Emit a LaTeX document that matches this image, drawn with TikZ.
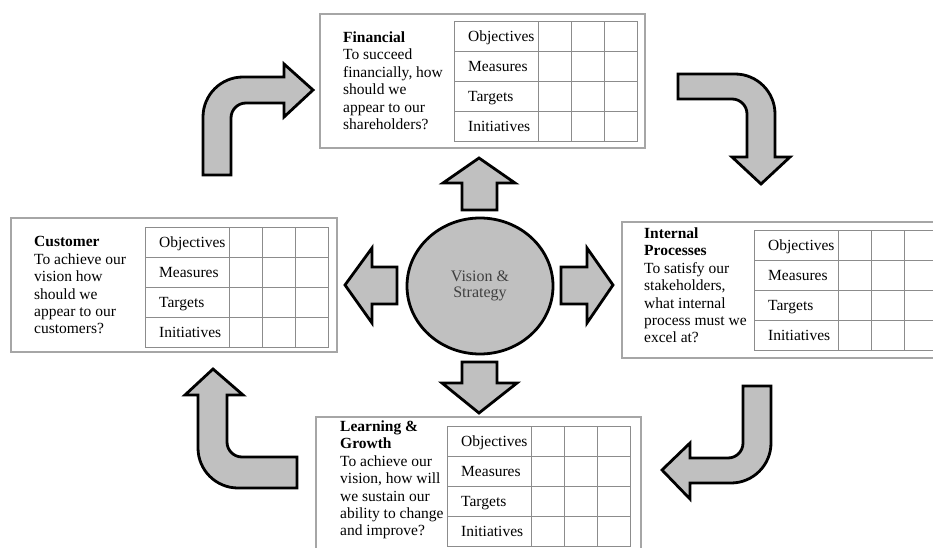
\documentclass[tikz,border=0pt]{standalone}
\usepackage{fontspec}
\setmainfont{Liberation Serif}
\usetikzlibrary{shapes.geometric}

\definecolor{arrowgray}{HTML}{C0C0C0}
\definecolor{boxgray}{HTML}{A6A6A6}
\definecolor{gridgray}{HTML}{8C8C8C}
\definecolor{textgray}{HTML}{404040}

\begin{document}
\begin{tikzpicture}[x=1pt,y=-1pt,
  blockarrow/.style={draw=black,line width=2.8pt,fill=arrowgray,line join=miter},
  panel/.style={draw=boxgray,line width=1.4pt},
  tabline/.style={draw=gridgray,line width=1pt},
  persp/.style={anchor=north west,inner sep=0pt,align=left,font=\fontsize{15.5}{17.4}\selectfont},
  cell/.style={anchor=base west,inner sep=0pt,font=\fontsize{15.5}{17.4}\selectfont}]
\useasboundingbox (0,0) rectangle (933,548);
\clip (0,0) rectangle (933,548);
\fill[white] (0,0) rectangle (933,548);

% the four perspective boxes
\draw[panel] (320,14) rectangle (645,148);
\draw[panel] (11,218) rectangle (337,352);
\draw[panel] (622,222) rectangle (960,358);
\draw[panel] (316,417) rectangle (641,570);

\node[persp] (fin) at (343,31.5) {\textbf{Financial}\\To succeed\\financially, how\\should we\\appear to our\\shareholders?};
\node[persp] (cus) at (34,236.5) {\textbf{Customer}\\To achieve our\\vision how\\should we\\appear to our\\customers?};
\node[persp] (int) at (644,227.5) {\textbf{Internal}\\\textbf{Processes}\\To satisfy our\\stakeholders,\\what internal\\process must we\\excel at?};
\node[persp] (lea) at (340,420.5) {\textbf{Learning \&}\\\textbf{Growth}\\To achieve our\\vision, how will\\we sustain our\\ability to change\\and improve?};

% tables
\foreach \tx/\ty/\tn in {454/22/fin, 145/227/cus, 754/230/int, 447/426/lea} {
  \draw[tabline] (\tx,\ty) rectangle ++(183,120);
  \foreach \r in {30,60,90}
    \draw[tabline] (\tx,\ty+\r) -- ++(183,0);
  \foreach \c in {84,117,150}
    \draw[tabline] (\tx+\c,\ty) -- ++(0,120);
  \foreach \lab [count=\i from 0] in {Objectives,Measures,Targets,Initiatives}
    \node[cell] (\tn-\lab) at (\tx+14,\ty+20+30*\i) {\lab};
}

% vision in the middle
\node[ellipse,draw=black,line width=2.8pt,fill=arrowgray,minimum width=146pt,minimum height=136pt,
  align=center,text=textgray,font=\fontsize{16}{16.5}\selectfont] (vision) at (480,286) {Vision \&\\Strategy};

% straight arrows
\draw[blockarrow] (462,210) -- (462,183) -- (443,183) -- (479,158) -- (515,183) -- (497,183) -- (497,210) -- cycle;
\draw[blockarrow] (462,362) -- (497,362) -- (497,383) -- (517,383) -- (479,413) -- (442,383) -- (462,383) -- cycle;
\draw[blockarrow] (397,267) -- (372,267) -- (372,248) -- (345,285) -- (372,323) -- (372,304) -- (397,304) -- cycle;
\draw[blockarrow] (561,267) -- (587,267) -- (587,248) -- (613,285) -- (587,323) -- (587,304) -- (561,304) -- cycle;

% bent arrows
\draw[blockarrow] (203,175) -- (203,117) arc (180:270:40) -- (284,77) -- (284,64) -- (313,90) -- (284,117)
  -- (284,103) -- (246,103) arc (270:180:15) -- (231,175) -- cycle;
\draw[blockarrow] (678,74) -- (735,74) arc (270:360:40) -- (775,157) -- (790,157) -- (761,184) -- (732,157)
  -- (747,157) -- (747,114) arc (0:-90:15) -- (678,99) -- cycle;
\draw[blockarrow] (743,386) -- (771,386) -- (771,443) arc (0:90:40) -- (690,483) -- (690,499) -- (662,470)
  -- (690,443) -- (690,458) -- (728,458) arc (90:0:15) -- cycle;
\draw[blockarrow] (297,457) -- (242,457) arc (90:180:15) -- (227,395) -- (243,395) -- (213,369) -- (185,395)
  -- (198,395) -- (198,448) arc (180:90:40) -- (297,488) -- cycle;
\end{tikzpicture}
\end{document}
